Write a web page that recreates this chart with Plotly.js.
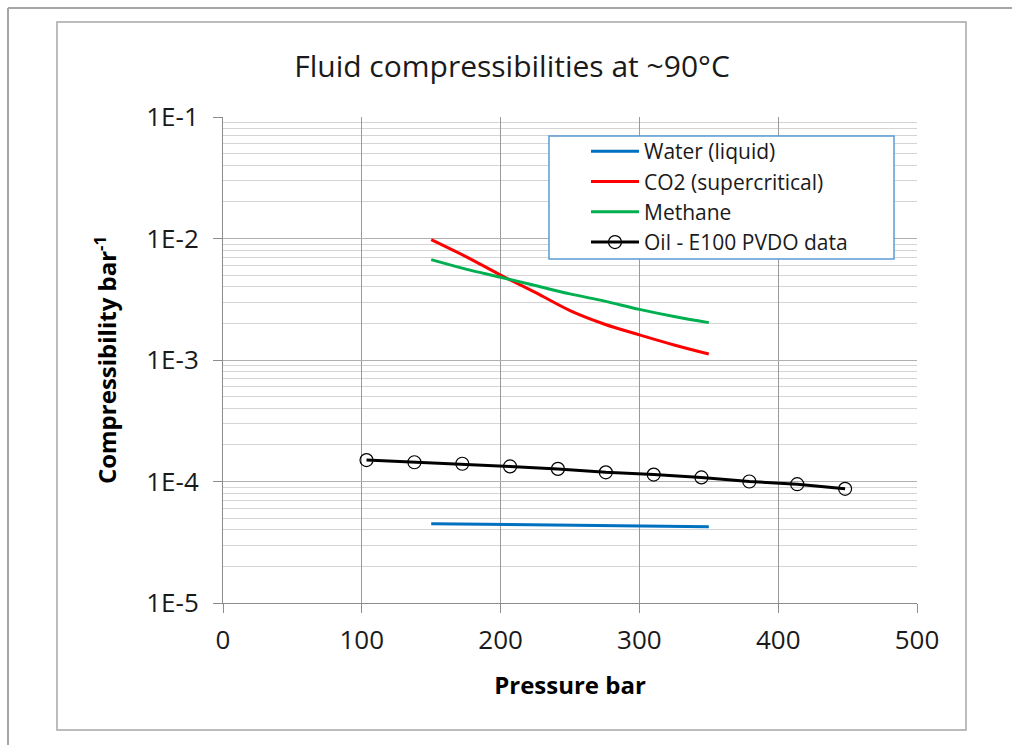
<!DOCTYPE html>
<html>
<head>
<meta charset="utf-8">
<script src="https://cdn.plot.ly/plotly-3.0.1.min.js"></script>
<style>
  html, body { margin: 0; padding: 0; background: #ffffff; }
  #chart { width: 1012px; height: 745px; }
</style>
</head>
<body>
<div id="chart"></div>
<script>
// ---- data ----
const waterP = [150, 250, 350];
const waterC = [4.5e-5, 4.37e-5, 4.25e-5];

const co2P = [150, 175, 200, 225, 250, 275, 300, 325, 350];
const co2C = [9.8e-3, 7.1e-3, 5.0e-3, 3.6e-3, 2.55e-3, 1.97e-3, 1.61e-3, 1.33e-3, 1.12e-3];

const methaneP = [150, 175, 200, 225, 250, 275, 300, 325, 350];
const methaneC = [6.7e-3, 5.6e-3, 4.8e-3, 4.1e-3, 3.5e-3, 3.05e-3, 2.61e-3, 2.28e-3, 2.03e-3];

const oilP = [103.4, 137.9, 172.4, 206.8, 241.3, 275.8, 310.3, 344.7, 379.2, 413.7, 448.2];
const oilC = [1.50e-4, 1.44e-4, 1.40e-4, 1.33e-4, 1.27e-4, 1.19e-4, 1.14e-4, 1.08e-4, 1.00e-4, 0.95e-4, 0.87e-4];

const seriesNames = ['Water (liquid)', 'CO2 (supercritical)', 'Methane', 'Oil - E100 PVDO data'];
const yTickVals = [1e-5, 1e-4, 1e-3, 1e-2, 1e-1];
const yTickText = ['1E-5', '1E-4', '1E-3', '1E-2', '1E-1'];
const xTickVals = [0, 100, 200, 300, 400, 500];

const titleText = 'Fluid compressibilities at ~90\u00B0C';
const xTitle = 'Pressure bar';
const yTitle = 'Compressibility bar<sup>-1</sup>';

// ---- geometry helpers (pixel -> paper) ----
const W = 1012, H = 745;
const mL = 223, mR = 95, mT = 117, mB = 142;
const pw = W - mL - mR, ph = H - mT - mB;
const px = x => (x - mL) / pw;
const py = y => 1 - (y - mT) / ph;

const FONT = '"Open Sans", "Noto Sans", sans-serif';

const traces = [
  { x: waterP, y: waterC, name: seriesNames[0], mode: 'lines',
    line: { color: '#0070C0', width: 3 } },
  { x: co2P, y: co2C, name: seriesNames[1], mode: 'lines',
    line: { color: '#FF0000', width: 3, shape: 'spline' } },
  { x: methaneP, y: methaneC, name: seriesNames[2], mode: 'lines',
    line: { color: '#00B050', width: 3, shape: 'spline' } },
  { x: oilP, y: oilC, name: seriesNames[3], mode: 'lines+markers',
    line: { color: '#000000', width: 3 },
    marker: { symbol: 'circle-open', size: 13, color: '#000000', line: { width: 1.2, color: '#000000' } } }
];

const borderColor = '#a6a6a6';

const layout = {
  width: W, height: H,
  margin: { l: mL, r: mR, t: mT, b: mB, pad: 0 },
  paper_bgcolor: '#ffffff',
  plot_bgcolor: '#ffffff',
  font: { family: FONT, color: '#1a1a1a' },
  showlegend: true,
  title: {
    text: titleText,
    font: { family: FONT, size: 30, color: '#1a1a1a' },
    x: 512 / W, xref: 'container', xanchor: 'center',
    y: 1 - 66 / H, yref: 'container', yanchor: 'middle'
  },
  xaxis: {
    range: [0, 500],
    tickmode: 'array', tickvals: xTickVals,
    ticks: 'outside', ticklen: 9, tickcolor: '#8c8c8c', tickwidth: 1,
    showline: true, linecolor: '#8c8c8c', linewidth: 1,
    showgrid: true, gridcolor: '#9a9a9a', gridwidth: 1,
    zeroline: false,
    tickfont: { family: FONT, size: 26, color: '#1a1a1a' },
    ticklabelstandoff: 5,
    title: { text: xTitle, font: { family: FONT, size: 24, color: '#000000', weight: 'bold' }, standoff: 20 }
  },
  yaxis: {
    type: 'log',
    range: [-5, -1],
    tickmode: 'array', tickvals: yTickVals, ticktext: yTickText,
    ticks: 'outside', ticklen: 9, tickcolor: '#8c8c8c', tickwidth: 1,
    showline: true, linecolor: '#8c8c8c', linewidth: 1,
    showgrid: true, gridcolor: '#b0b0b0', gridwidth: 1,
    minor: { showgrid: true, gridcolor: '#d4d4d4', gridwidth: 1, dtick: 'D1', ticks: '' },
    zeroline: false,
    tickfont: { family: FONT, size: 26, color: '#1a1a1a' },
    ticklabelstandoff: 9,
    title: { text: yTitle, font: { family: FONT, size: 24, color: '#000000', weight: 'bold' }, standoff: 22 }
  },
  legend: {
    x: px(586), y: py(131), xanchor: 'left', yanchor: 'top',
    bgcolor: 'rgba(0,0,0,0)', borderwidth: 0,
    font: { family: FONT, size: 21, color: '#1a1a1a' },
    itemwidth: 48,
    tracegroupgap: 0
  },
  shapes: [
    // outer frame (left and top edges)
    { type: 'line', xref: 'paper', yref: 'paper', x0: px(8), x1: px(1012), y0: py(8), y1: py(8), line: { color: borderColor, width: 2 } },
    { type: 'line', xref: 'paper', yref: 'paper', x0: px(8), x1: px(8), y0: py(8), y1: py(745), line: { color: borderColor, width: 2 } },
    // chart area frame
    { type: 'rect', xref: 'paper', yref: 'paper', x0: px(57), x1: px(966), y0: py(730), y1: py(22), line: { color: borderColor, width: 1.5 }, layer: 'below' },
    // legend box
    { type: 'rect', xref: 'paper', yref: 'paper', x0: px(549), x1: px(894), y0: py(259), y1: py(136), fillcolor: '#ffffff', line: { color: '#5B9BD5', width: 1.5 }, layer: 'above' }
  ]
};

Plotly.newPlot('chart', traces, layout, { displayModeBar: false, staticPlot: true });
</script>
</body>
</html>
